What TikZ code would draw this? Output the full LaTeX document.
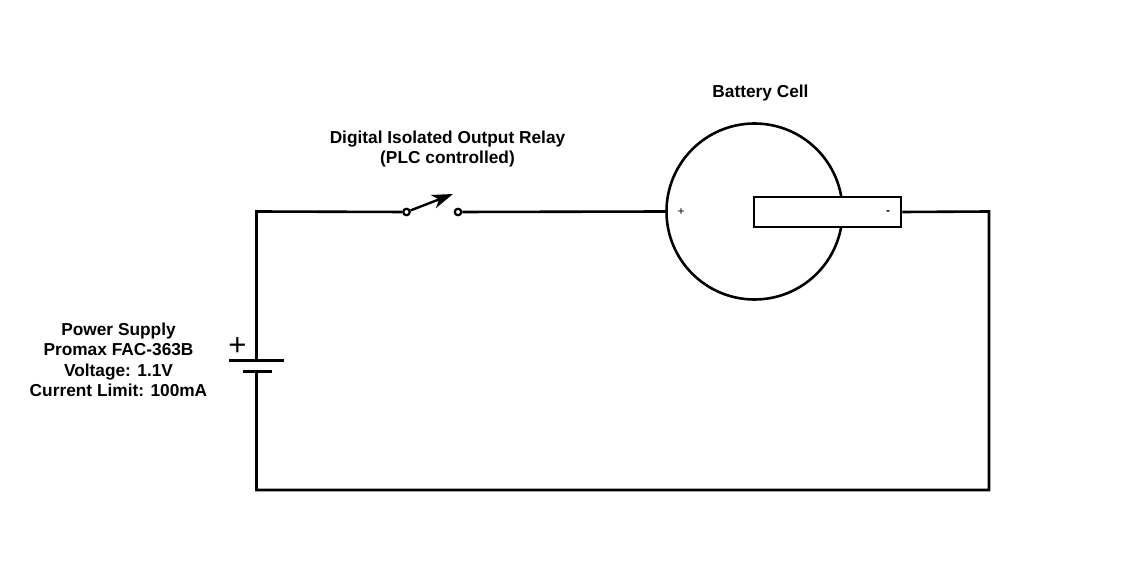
\documentclass[tikz,border=0pt]{standalone}
\usepackage{fontspec}
\setmainfont{Liberation Sans}
\usetikzlibrary{positioning}
\usetikzlibrary{arrows.meta}

\tikzset{
	wire/.style={line width=2.6pt},
	label text/.style={font=\fontsize{17.3}{20.5}\selectfont\bfseries, align=center, inner sep=0pt},
	small sign/.style={font=\fontsize{12}{12}\selectfont, inner sep=0pt},
	contact/.style={circle, draw, line width=2.2pt, fill=white, minimum size=6.5pt, inner sep=0pt}
}

\begin{document}
\begin{tikzpicture}[x=1pt,y=-1pt]
\useasboundingbox (0,0) rectangle (1135,585);

% corners of the loop
\coordinate (topleft) at (256.5,211.5);
\coordinate (topright) at (989,211.5);
\coordinate (botright) at (989,490);
\coordinate (botleft) at (256.5,490);

% supply plates
\coordinate (longl) at (229,360.5);
\coordinate (longr) at (284,360.5);
\coordinate (longm) at (256.5,360.5);
\coordinate (shortl) at (243,371.5);
\coordinate (shortr) at (272,371.5);
\coordinate (shortm) at (256.5,371.5);

% relay
\node[contact] (relayl) at (406.5,212) {};
\node[contact] (relayr) at (458,212) {};
\coordinate (relaytip) at (453,194);

% cell
\node[circle, wire, draw, minimum size=176pt, inner sep=0pt] (cell) at (754.5,211.5) {};
\node[draw, wire, fill=white, minimum width=147pt, minimum height=30pt, inner sep=0pt, anchor=west] (tab) at (752.7,212) {};
\node[small sign] (cellplus) at (681,212) {+};
\node[small sign, font=\fontsize{12}{12}\selectfont\bfseries] (cellminus) at (888,213) {-};

\draw[wire] (longm) -- (topleft) -- (relayl);
\draw[wire] (relayr) -- (cell.west);
\draw[wire] (tab.east) -- (topright) -- (botright) -- (botleft) -- (shortm);
\draw[wire] (longl) -- (longr);
\draw[wire] (shortl) -- (shortr);
\draw[line width=2.4pt, -{Stealth[length=21pt,width=14pt,inset=6pt]}] (relayl) -- (relaytip);

\node[font=\fontsize{31}{31}\selectfont, inner sep=0pt] (plus) at (237.5,347) {+};
\node[label text] (celltext) at (760.5,93.5) {Battery Cell};
\node[label text] (relaytext) at (447.5,149) {Digital Isolated Output Relay\\(PLC controlled)};
\node[label text] (supplytext) at (118.5,360) {Power Supply\\Promax FAC-363B\\Voltage: 1.1V\\Current Limit: 100mA};

\end{tikzpicture}
\end{document}
